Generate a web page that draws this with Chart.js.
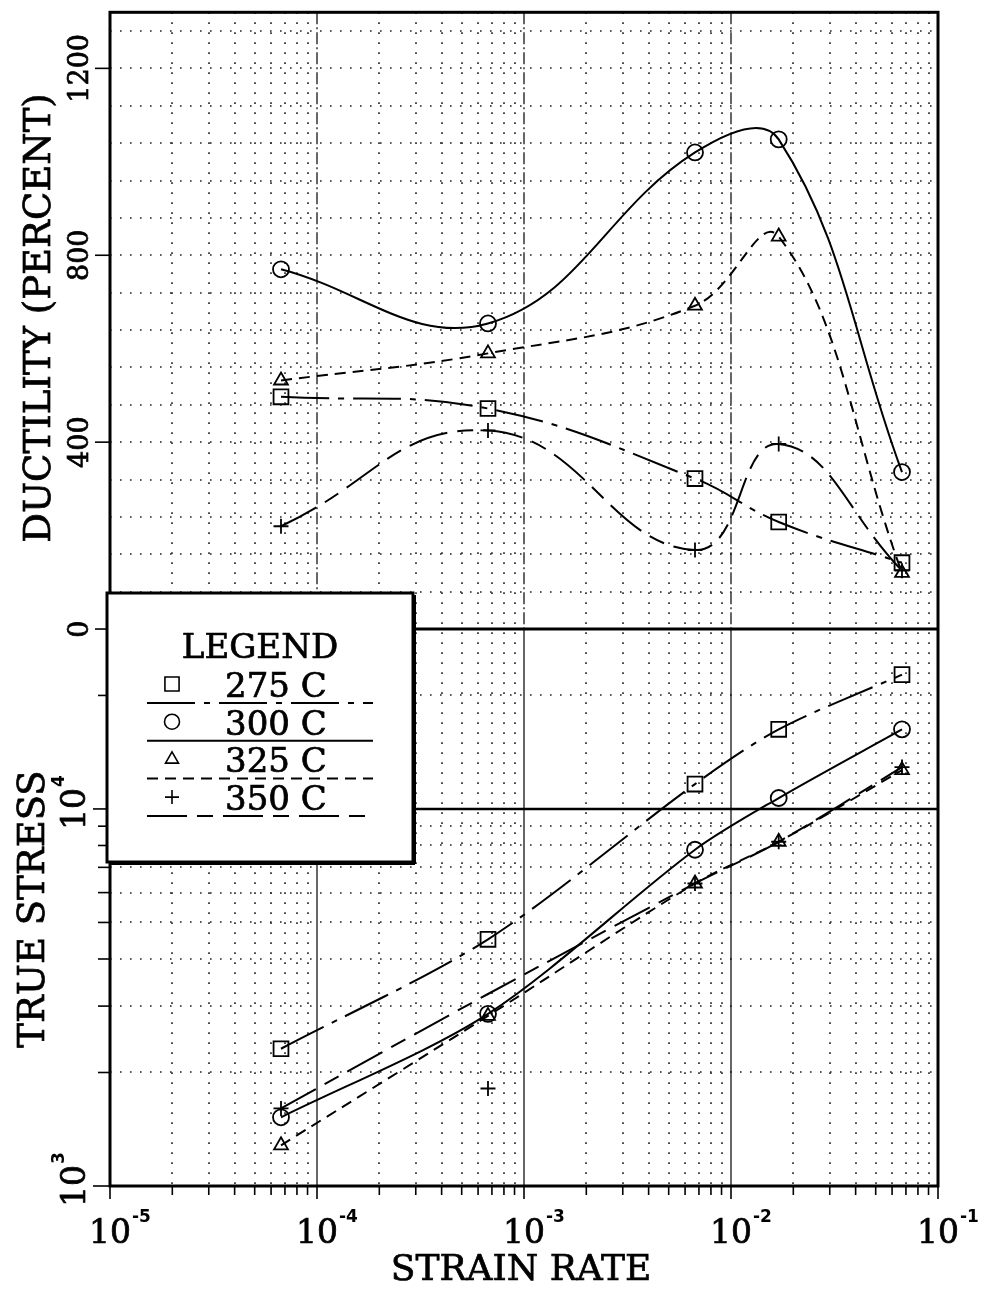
<!DOCTYPE html>
<html>
<head>
<meta charset="utf-8">
<title>Ductility and true stress vs strain rate</title>
<script src="https://cdn.jsdelivr.net/npm/chart.js@4.4.1/dist/chart.umd.min.js"></script>
<style>
  html, body { margin: 0; padding: 0; background: #fff; }
  canvas { display: block; }
</style>
</head>
<body>
<canvas id="chart" width="989" height="1292"></canvas>
<script>
// values
const strainRates = [6.7e-5, 6.7e-4, 6.7e-3, 1.7e-2, 6.7e-2];
const tempLabels = ['275 C', '300 C', '325 C', '350 C'];

// ductility (percent), top panel
const duct275 = [497, 472, 322, 229, 142];
const duct300 = [770, 654, 1020, 1048, 336];
const duct325 = [532, 590, 692, 840, 120];
const duct350 = [220, 425, 169, 396, 125];

// true stress, bottom panel
const stress275 = [2312, 4511, 11640, 16260, 22710];
const stress300 = [1521, 2861, 7795, 10690, 16260];
const stress325 = [1282, 2826, 6343, 8184, 12675];
const stress350 = [1606, 1814, 6343, 8184, 12910];
// the drawn 350 C curve runs above the 6.7e-4 point
const stress350Curve = [1606, 3230, 6343, 8184, 12910];

// axis ticks
const xDecades = [-5, -4, -3, -2, -1];
const ductTicks = [0, 400, 800, 1200];
const stressDecades = [3, 4];

const dashes = [[48, 9, 6, 9], [], [11, 7], [40, 10, 16, 10]];
const marks = ['rect', 'circle', 'triangle', 'cross'];
const markSize = [10.5, 8, 8, 7.5];
const legendMarkSize = [10, 7.5, 7.5, 7];
const SERIF = '"DejaVu Serif", "Liberation Serif", serif';

function series(i, values, axis, extra) {
    return Object.assign({
        label: tempLabels[i],
        data: strainRates.map((x, k) => ({x: x, y: values[k]})),
        yAxisID: axis,
        borderColor: '#000',
        borderWidth: 2,
        borderDash: dashes[i],
        pointStyle: marks[i],
        pointRadius: markSize[i],
        pointBorderWidth: 1.8,
        pointBorderColor: '#000',
        pointBackgroundColor: 'rgba(0,0,0,0)',
        tension: 0.4,
        fill: false
    }, extra || {});
}

const datasets = [
    series(0, duct275, 'yD'),
    series(1, duct300, 'yD'),
    series(2, duct325, 'yD'),
    series(3, duct350, 'yD', {tension: 0.45}),
    series(0, stress275, 'yS', {tension: 0.3}),
    series(1, stress300, 'yS', {tension: 0.3}),
    series(2, stress325, 'yS', {tension: 0.3}),
    series(3, stress350Curve, 'yS', {tension: 0.3, pointRadius: 0}),
    series(3, stress350, 'yS', {showLine: false})
];

function hline(ctx, x0, x1, y) {
    ctx.beginPath(); ctx.moveTo(x0, y); ctx.lineTo(x1, y); ctx.stroke();
}
function vline(ctx, x, y0, y1) {
    ctx.beginPath(); ctx.moveTo(x, y0); ctx.lineTo(x, y1); ctx.stroke();
}
// serif text with a faint outline, the original type is heavy
function text(ctx, str, x, y, font, align, rot) {
    ctx.save();
    ctx.translate(x, y);
    if (rot) ctx.rotate(rot);
    ctx.font = font;
    ctx.textAlign = align || 'center';
    ctx.textBaseline = 'alphabetic';
    ctx.lineWidth = 0.7;
    ctx.setLineDash([]);
    ctx.fillText(str, 0, 0);
    ctx.strokeText(str, 0, 0);
    ctx.restore();
}
function powerLabel(ctx, exp, x, y, rot) {
    ctx.save();
    ctx.translate(x, y);
    if (rot) ctx.rotate(rot);
    ctx.font = '33px ' + SERIF;
    const w = ctx.measureText('10').width;
    ctx.textAlign = 'center';
    ctx.lineWidth = 0.7;
    ctx.fillText('10', 0, 0);
    ctx.strokeText('10', 0, 0);
    ctx.font = 'bold 17px "DejaVu Sans", sans-serif';
    ctx.textAlign = 'left';
    ctx.fillText(String(exp), w / 2 + 1, -21);
    ctx.restore();
}

const paperPlugin = {
    id: 'paper',
    beforeDatasetsDraw(chart) {
        const ctx = chart.ctx, a = chart.chartArea;
        const xs = chart.scales.x, yd = chart.scales.yD, ys = chart.scales.yS;
        const mid = yd.bottom;
        ctx.save();
        ctx.strokeStyle = '#222';
        ctx.lineWidth = 1.6;
        ctx.setLineDash([1.6, 8.4]);
        // dotted minor grid
        xDecades.slice(0, -1).forEach(e => {
            for (let m = 2; m <= 9; m++) {
                vline(ctx, Math.round(xs.getPixelForValue(m * Math.pow(10, e))), a.top, a.bottom);
            }
        });
        for (let v = 80; v < yd.max; v += 80) {
            hline(ctx, a.left, a.right, Math.round(yd.getPixelForValue(v)));
        }
        stressDecades.forEach(e => {
            for (let m = 2; m <= 9; m++) {
                const v = m * Math.pow(10, e);
                if (v < ys.max) hline(ctx, a.left, a.right, Math.round(ys.getPixelForValue(v)));
            }
        });
        // decade lines
        ctx.strokeStyle = '#000';
        ctx.lineWidth = 1.2;
        xDecades.slice(1, -1).forEach(e => {
            const px = Math.round(xs.getPixelForValue(Math.pow(10, e)));
            ctx.setLineDash([12, 3, 2, 3]);
            vline(ctx, px, a.top, mid);
            ctx.setLineDash([]);
            vline(ctx, px, mid, a.bottom);
        });
        ctx.lineWidth = 2.5;
        hline(ctx, a.left, a.right, Math.round(ys.getPixelForValue(1e4)));
        ctx.restore();
    },
    afterDatasetsDraw(chart) {
        const ctx = chart.ctx, a = chart.chartArea;
        const xs = chart.scales.x, yd = chart.scales.yD, ys = chart.scales.yS;
        const mid = yd.bottom;
        ctx.save();
        ctx.strokeStyle = '#000';
        ctx.fillStyle = '#000';

        // frame + panel divider
        ctx.lineWidth = 3;
        ctx.strokeRect(a.left, a.top, a.right - a.left, a.bottom - a.top);
        hline(ctx, a.left, a.right, mid);

        // tick marks
        ctx.lineWidth = 1.6;
        xDecades.forEach(e => {
            const px = xs.getPixelForValue(Math.pow(10, e));
            vline(ctx, px, a.bottom, a.bottom + 13);
            if (e < xDecades[xDecades.length - 1]) {
                for (let m = 2; m <= 9; m++) {
                    vline(ctx, xs.getPixelForValue(m * Math.pow(10, e)), a.bottom, a.bottom + 9);
                }
            }
        });
        ductTicks.forEach(v => hline(ctx, a.left - 15, a.left, yd.getPixelForValue(v)));
        stressDecades.forEach(e => {
            hline(ctx, a.left - 17, a.left, ys.getPixelForValue(Math.pow(10, e)));
            for (let m = 2; m <= 9; m++) {
                const v = m * Math.pow(10, e);
                if (v < ys.max) hline(ctx, a.left - 12, a.left, ys.getPixelForValue(v));
            }
        });

        // tick labels
        xDecades.forEach(e => powerLabel(ctx, e, xs.getPixelForValue(Math.pow(10, e)), a.bottom + 57));
        ductTicks.forEach(v => text(ctx, String(v), a.left - 22, yd.getPixelForValue(v), '27px ' + SERIF, 'center', -Math.PI / 2));
        stressDecades.forEach(e => powerLabel(ctx, e, a.left - 25, ys.getPixelForValue(Math.pow(10, e)), -Math.PI / 2));

        // axis titles
        text(ctx, 'STRAIN RATE', (a.left + a.right) / 2 - 3, a.bottom + 94, '36px ' + SERIF);
        text(ctx, 'DUCTILITY (PERCENT)', 50, 318, '37px ' + SERIF, 'center', -Math.PI / 2);
        text(ctx, 'TRUE STRESS', 44, 909, '37px ' + SERIF, 'center', -Math.PI / 2);

        // legend box
        const bx = a.left - 3, by = 593, bw = 306, bh = 269;
        ctx.fillStyle = '#fff';
        ctx.fillRect(bx, by, bw, bh);
        ctx.fillStyle = '#000';
        ctx.lineWidth = 3;
        ctx.strokeRect(bx, by, bw, bh);
        ctx.lineWidth = 2;
        hline(ctx, bx + 2, bx + bw + 2, by + bh + 2);
        vline(ctx, bx + bw + 2, by + 2, by + bh + 2);
        text(ctx, 'LEGEND', bx + 153, by + 65, '34px ' + SERIF);
        tempLabels.forEach((lab, i) => {
            const base = by + 104 + i * 37.7;
            text(ctx, lab, bx + 118, base, '34px ' + SERIF, 'left');
            ctx.lineWidth = 2;
            ctx.setLineDash(dashes[i]);
            hline(ctx, bx + 40, bx + 266, base + 6);
            ctx.setLineDash([]);
            ctx.lineWidth = 1.6;
            ctx.fillStyle = 'rgba(0,0,0,0)';
            Chart.helpers.drawPoint(ctx, {pointStyle: marks[i], radius: legendMarkSize[i], rotation: 0, borderWidth: 1.6}, bx + 65, base - 13);
            ctx.fillStyle = '#000';
        });
        ctx.restore();
    }
};

new Chart(document.getElementById('chart'), {
    type: 'line',
    data: {datasets: datasets},
    options: {
        responsive: false,
        animation: false,
        events: [],
        layout: {padding: {left: 110, right: 51, top: 8, bottom: 106}},
        plugins: {legend: {display: false}, tooltip: {enabled: false}},
        scales: {
            x: {type: 'logarithmic', min: 1e-5, max: 1e-1, display: false},
            yS: {type: 'logarithmic', min: 1e3, max: 3e4, position: 'left', stack: 'panels', stackWeight: 559, display: false},
            yD: {type: 'linear', min: 0, max: 1320, position: 'left', stack: 'panels', stackWeight: 619, display: false}
        }
    },
    plugins: [paperPlugin]
});
</script>
</body>
</html>
